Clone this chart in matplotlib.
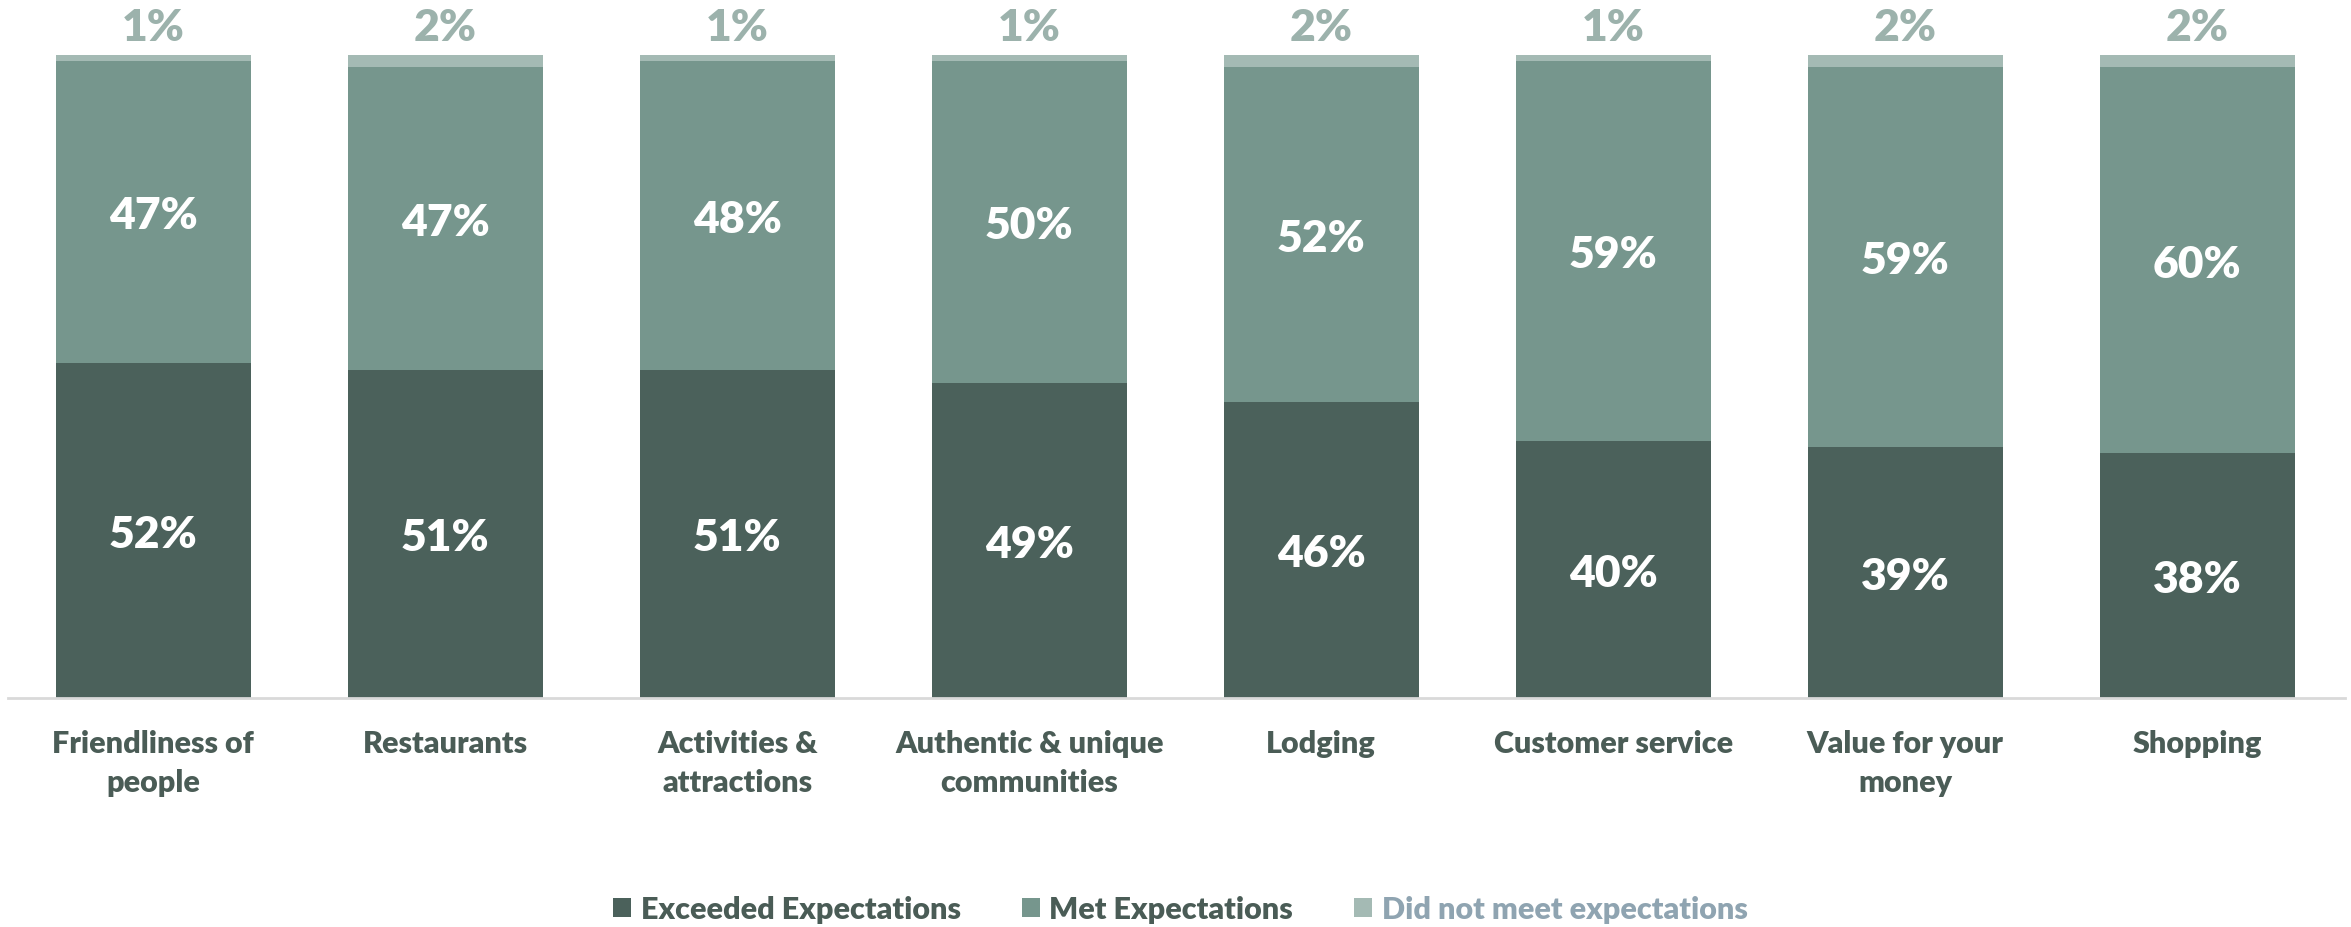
import matplotlib
matplotlib.use("Agg")
import matplotlib.pyplot as plt
from matplotlib.patches import Patch
import numpy as np

categories = ["Friendliness of\npeople", "Restaurants", "Activities &\nattractions",
              "Authentic & unique\ncommunities", "Lodging", "Customer service",
              "Value for your\nmoney", "Shopping"]
exceeded = [52, 51, 51, 49, 46, 40, 39, 38]
met = [47, 47, 48, 50, 52, 59, 59, 60]
not_met = [1, 2, 1, 1, 2, 1, 2, 2]
series_names = ["Exceeded Expectations", "Met Expectations", "Did not meet expectations"]

c_dark = "#4B615B"
c_mid = "#76968D"
c_light = "#A4BAB4"
c_label = "#4A5C56"
c_top = "#9CB2AC"
c_legend3 = "#8FA4B1"

plt.rcParams["font.family"] = ["Lato", "DejaVu Sans"]
WT = 800

W, H = 2351, 928
fig = plt.figure(figsize=(W / 100, H / 100), dpi=100)
ax = fig.add_axes([0.0035, 1 - 699 / H, 2337 / W, (699 - 55.5) / H])

x = np.arange(len(categories))
pitch = 292.0
x0 = (153 - 8) / pitch
ax.set_xlim(-x0, -x0 + 2337 / pitch)
ax.set_ylim(0, 100)

width = 195 / pitch
ex = np.array(exceeded)
me = np.array(met)
nm = np.array(not_met)
ax.bar(x, ex, width, color=c_dark, label=series_names[0])
ax.bar(x, me, width, bottom=ex, color=c_mid, label=series_names[1])
ax.bar(x, nm, width, bottom=ex + me, color=c_light, label=series_names[2])

for i in range(len(x)):
    ax.text(x[i], ex[i] / 2 - 0.5, f"{ex[i]}%", ha="center", va="center",
            color="white", fontsize=32, fontweight=WT)
    ax.text(x[i], ex[i] + me[i] / 2 - 0.5, f"{me[i]}%", ha="center", va="center",
            color="white", fontsize=32, fontweight=WT)
    ax.text(x[i], ex[i] + me[i] + nm[i] + 4.2, f"{nm[i]}%", ha="center",
            va="center", color=c_top, fontsize=32, fontweight=WT,
            clip_on=False)

for s in ["top", "right", "left"]:
    ax.spines[s].set_visible(False)
ax.spines["bottom"].set_color("#D9D9D9")
ax.spines["bottom"].set_linewidth(2)
ax.set_yticks([])
ax.set_xticks(x)
ax.set_xticklabels(categories, fontsize=22, fontweight=WT, color=c_label,
                   linespacing=1.5)
ax.tick_params(axis="x", length=0, pad=22)

handles = [Patch(facecolor=c_dark), Patch(facecolor=c_mid), Patch(facecolor=c_light)]
leg = fig.legend(handles, series_names, loc="center", bbox_to_anchor=(0.502, 1 - 910 / H),
                 ncol=3, frameon=False, handlelength=0.6,
                 handleheight=0.6, handletextpad=0.3, columnspacing=2.0,
                 prop={"weight": WT, "size": 22})
for t, c in zip(leg.get_texts(), [c_label, c_label, c_legend3]):
    t.set_color(c)

fig.savefig("out.png", dpi=100, facecolor="white")
